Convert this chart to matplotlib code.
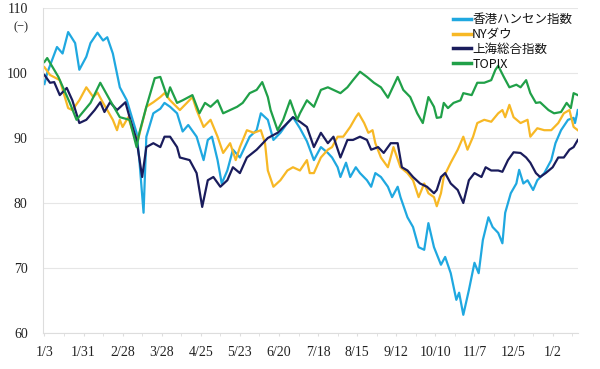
import matplotlib
matplotlib.use("Agg")
import matplotlib.pyplot as plt
import numpy as np
import pandas as pd

START = pd.Timestamp("2022-01-03")

# days since 2022-01-03, index value
hsi_days = [0, 2, 9, 13, 17, 22, 25, 30, 33, 38, 42, 45, 49, 54, 59, 66, 68, 71, 73, 78,
            83, 86, 90, 95, 99, 103, 109, 114, 117, 120, 124, 127, 131, 135, 140, 147, 152,
            155, 160, 164, 169, 174, 178, 183, 188, 193, 198, 203, 206, 210, 212, 216, 219,
            223, 226, 231, 234, 237, 241, 246, 249, 253, 255, 260, 264, 268, 272, 275, 279,
            284, 287, 291, 295, 297, 300, 304, 308, 311, 314, 318, 321, 325, 328, 330, 334,
            338, 340, 343, 346, 350, 353, 358, 363, 366, 370, 375, 379, 380, 382]
hsi_vals = [98.3, 100.0, 104.0, 103.0, 106.3, 104.6, 100.5, 102.5, 104.6, 106.2, 105.0, 105.5,
            103.0, 97.8, 95.8, 90.8, 86.6, 78.5, 90.2, 93.8, 94.5, 95.4, 94.8, 93.8, 91.0, 92.0,
            90.2, 86.6, 89.7, 90.2, 86.6, 83.0, 85.0, 88.2, 87.0, 90.2, 91.2, 93.8, 92.8, 89.7,
            90.8, 92.3, 93.2, 91.5, 89.5, 86.6, 88.6, 87.7, 87.0, 85.5, 84.0, 86.2, 84.0, 85.5,
            84.6, 83.5, 82.5, 84.6, 84.0, 82.5, 80.9, 82.5, 80.9, 77.8, 76.3, 73.2, 72.8, 76.9,
            73.2, 70.5, 71.7, 69.2, 65.1, 66.2, 62.8, 66.6, 70.8, 69.2, 74.3, 77.8, 76.3, 75.4,
            73.8, 78.5, 81.5, 83.0, 85.1, 83.0, 83.5, 82.0, 83.5, 84.6, 86.6, 89.2, 91.2, 92.8,
            93.1, 92.3, 94.3]

dow_days = [0, 4, 11, 17, 20, 25, 30, 35, 38, 42, 45, 49, 52, 54, 56, 60, 63, 67, 73, 78, 83,
            86, 90, 97, 102, 106, 109, 114, 119, 124, 128, 133, 137, 140, 145, 150, 155, 158,
            160, 164, 169, 174, 178, 183, 188, 190, 193, 198, 203, 206, 210, 214, 219, 223, 225,
            229, 232, 235, 237, 241, 246, 250, 255, 260, 264, 268, 272, 275, 279, 281, 284, 286,
            291, 296, 300, 303, 307, 310, 315, 320, 325, 328, 330, 333, 336, 341, 346, 348, 353,
            358, 363, 368, 372, 376, 379, 382]
dow_vals = [100.9, 99.7, 98.9, 94.6, 94.3, 95.8, 97.8, 96.3, 97.0, 95.4, 94.3, 92.8, 91.2, 92.8,
            91.7, 93.2, 91.2, 89.7, 94.8, 95.5, 96.3, 96.9, 95.8, 94.3, 95.4, 96.3, 94.3, 91.7,
            92.8, 90.2, 87.7, 89.2, 86.6, 88.6, 91.2, 90.8, 91.2, 89.2, 85.0, 82.5, 83.5, 85.0,
            85.5, 85.0, 86.6, 84.6, 84.6, 87.0, 88.2, 88.6, 90.2, 90.2, 91.7, 93.2, 93.8, 92.3,
            90.8, 91.2, 89.2, 87.0, 85.5, 88.6, 85.5, 84.6, 83.5, 80.9, 83.0, 81.5, 80.9, 79.5,
            81.5, 84.0, 86.2, 88.2, 90.2, 88.2, 90.2, 92.3, 92.8, 92.5, 93.8, 94.3, 93.2, 95.1,
            93.2, 92.3, 92.8, 90.2, 91.5, 91.2, 91.2, 92.3, 93.8, 94.3, 91.7, 91.2]

sse_days = [0, 4, 7, 11, 16, 20, 25, 30, 36, 40, 43, 47, 52, 58, 61, 66, 70, 73, 78, 83, 86,
            90, 95, 97, 104, 109, 113, 117, 121, 126, 131, 135, 140, 145, 152, 160, 167, 174,
            178, 183, 188, 193, 198, 203, 207, 212, 217, 221, 226, 231, 234, 239, 243, 248, 253,
            256, 260, 264, 269, 274, 279, 281, 284, 287, 291, 296, 300, 304, 308, 313, 316, 320,
            325, 328, 332, 336, 341, 345, 348, 352, 355, 359, 364, 368, 372, 376, 379, 382]
sse_vals = [99.7, 98.5, 98.6, 96.6, 97.7, 95.8, 92.3, 92.8, 94.3, 95.5, 94.0, 95.5, 94.3, 95.5,
            93.2, 89.7, 84.0, 88.6, 89.2, 88.6, 90.2, 90.2, 88.6, 87.0, 86.6, 84.6, 79.4, 83.5,
            84.0, 82.5, 83.5, 85.5, 84.6, 87.0, 88.2, 90.0, 90.8, 92.3, 93.2, 92.5, 91.7, 88.6,
            90.8, 89.2, 90.2, 87.0, 89.7, 89.7, 90.2, 89.7, 88.2, 88.6, 87.7, 89.2, 89.2, 85.5,
            85.0, 84.0, 83.0, 82.5, 81.5, 82.0, 84.0, 84.6, 83.0, 82.0, 80.0, 83.5, 84.6, 84.0,
            85.5, 85.0, 85.0, 84.8, 86.6, 87.8, 87.7, 87.0, 86.2, 84.6, 84.0, 84.6, 85.5, 87.0,
            87.0, 88.2, 88.6, 89.7]

topix_days = [0, 2, 10, 18, 23, 33, 40, 47, 54, 61, 66, 68, 73, 79, 83, 88, 90, 95, 99, 106,
              111, 115, 119, 124, 128, 133, 138, 142, 147, 152, 156, 160, 162, 167, 171, 176,
              181, 183, 188, 193, 198, 203, 207, 212, 217, 221, 226, 231, 236, 241, 246, 253,
              257, 262, 267, 271, 275, 279, 281, 284, 286, 289, 293, 298, 300, 306, 310, 315,
              320, 323, 325, 329, 333, 338, 341, 345, 348, 352, 355, 361, 365, 370, 374, 377,
              379, 382]
topix_vals = [101.7, 102.3, 99.4, 95.5, 92.8, 95.4, 98.5, 95.8, 93.2, 92.8, 88.6, 90.8, 94.8,
              99.2, 99.4, 96.3, 97.8, 95.4, 95.8, 96.6, 93.8, 95.4, 94.8, 95.8, 93.8, 94.3, 94.8,
              95.4, 96.9, 97.4, 98.6, 96.3, 94.3, 91.2, 92.8, 95.8, 92.8, 93.8, 95.8, 94.8, 97.4,
              97.8, 97.4, 96.9, 97.8, 98.9, 100.2, 99.4, 98.5, 97.8, 96.2, 99.4, 97.4, 96.3, 93.8,
              92.3, 96.3, 94.8, 93.1, 93.2, 95.4, 94.6, 95.4, 95.8, 96.9, 96.6, 98.5, 98.5, 98.9,
              100.5, 101.1, 99.4, 97.8, 98.2, 97.8, 98.9, 96.9, 95.4, 95.5, 94.3, 93.8, 94.0,
              95.4, 94.6, 96.9, 96.6]

series_names = ["香港ハンセン指数", "NYダウ", "上海総合指数", "TOPIX"]
series_colors = ["#1fa8e0", "#f7b825", "#1a1c5c", "#20a048"]
series_data = [(hsi_days, hsi_vals), (dow_days, dow_vals),
               (sse_days, sse_vals), (topix_days, topix_vals)]

tick_dates = pd.date_range("2022-01-03", periods=14, freq="28D")
minor_dates = pd.date_range("2022-01-17", periods=14, freq="28D")

plt.rcParams["font.family"] = ["Noto Sans CJK JP", "DejaVu Sans"]

fig = plt.figure(figsize=(6.0, 3.69), dpi=100)
ax = fig.add_axes([0.0717, 0.0976, 0.8913, 0.8807])

for (days, vals), name, color in zip(series_data, series_names, series_colors):
    dates = START + pd.to_timedelta(np.array(days), unit="D")
    ax.plot(dates, vals, color=color, linewidth=1.6, label=name, solid_joinstyle="round")

ax.set_ylim(60, 110)
ax.set_yticks(np.arange(60, 111, 10))
ax.set_xlim(pd.Timestamp("2022-01-02"), pd.Timestamp("2023-01-20"))
ax.set_xticks(tick_dates)
ax.set_xticklabels([f"{d.month}/{d.day}" for d in tick_dates])
ax.set_xticks(minor_dates, minor=True)

serif = "Liberation Serif"
for lbl in ax.get_xticklabels() + ax.get_yticklabels():
    lbl.set_fontfamily(serif)
    lbl.set_fontsize(10)
    lbl.set_color("#222222")

ax.grid(axis="y", color="#e6e6e6", linewidth=0.8)
ax.set_axisbelow(True)
for side in ["top", "right"]:
    ax.spines[side].set_visible(False)
for side in ["left", "bottom"]:
    ax.spines[side].set_color("#dddddd")
    ax.spines[side].set_linewidth(0.8)
ax.tick_params(axis="y", length=0, pad=11)
ax.tick_params(axis="x", which="both", length=2.5, color="#dddddd", pad=7)

fig.text(0.035, 0.925, "(−)", fontsize=9, fontfamily=serif, ha="center", va="center",
         color="#222222")

leg = ax.legend(loc="upper left", bbox_to_anchor=(0.757, 1.0), frameon=False, fontsize=9,
                handlelength=1.45, handletextpad=0.1, labelspacing=0.15, borderaxespad=0)
for line in leg.get_lines():
    line.set_linewidth(2.5)
for txt in leg.get_texts():
    txt.set_color("#111111")

fig.savefig("out.png", dpi=100)
